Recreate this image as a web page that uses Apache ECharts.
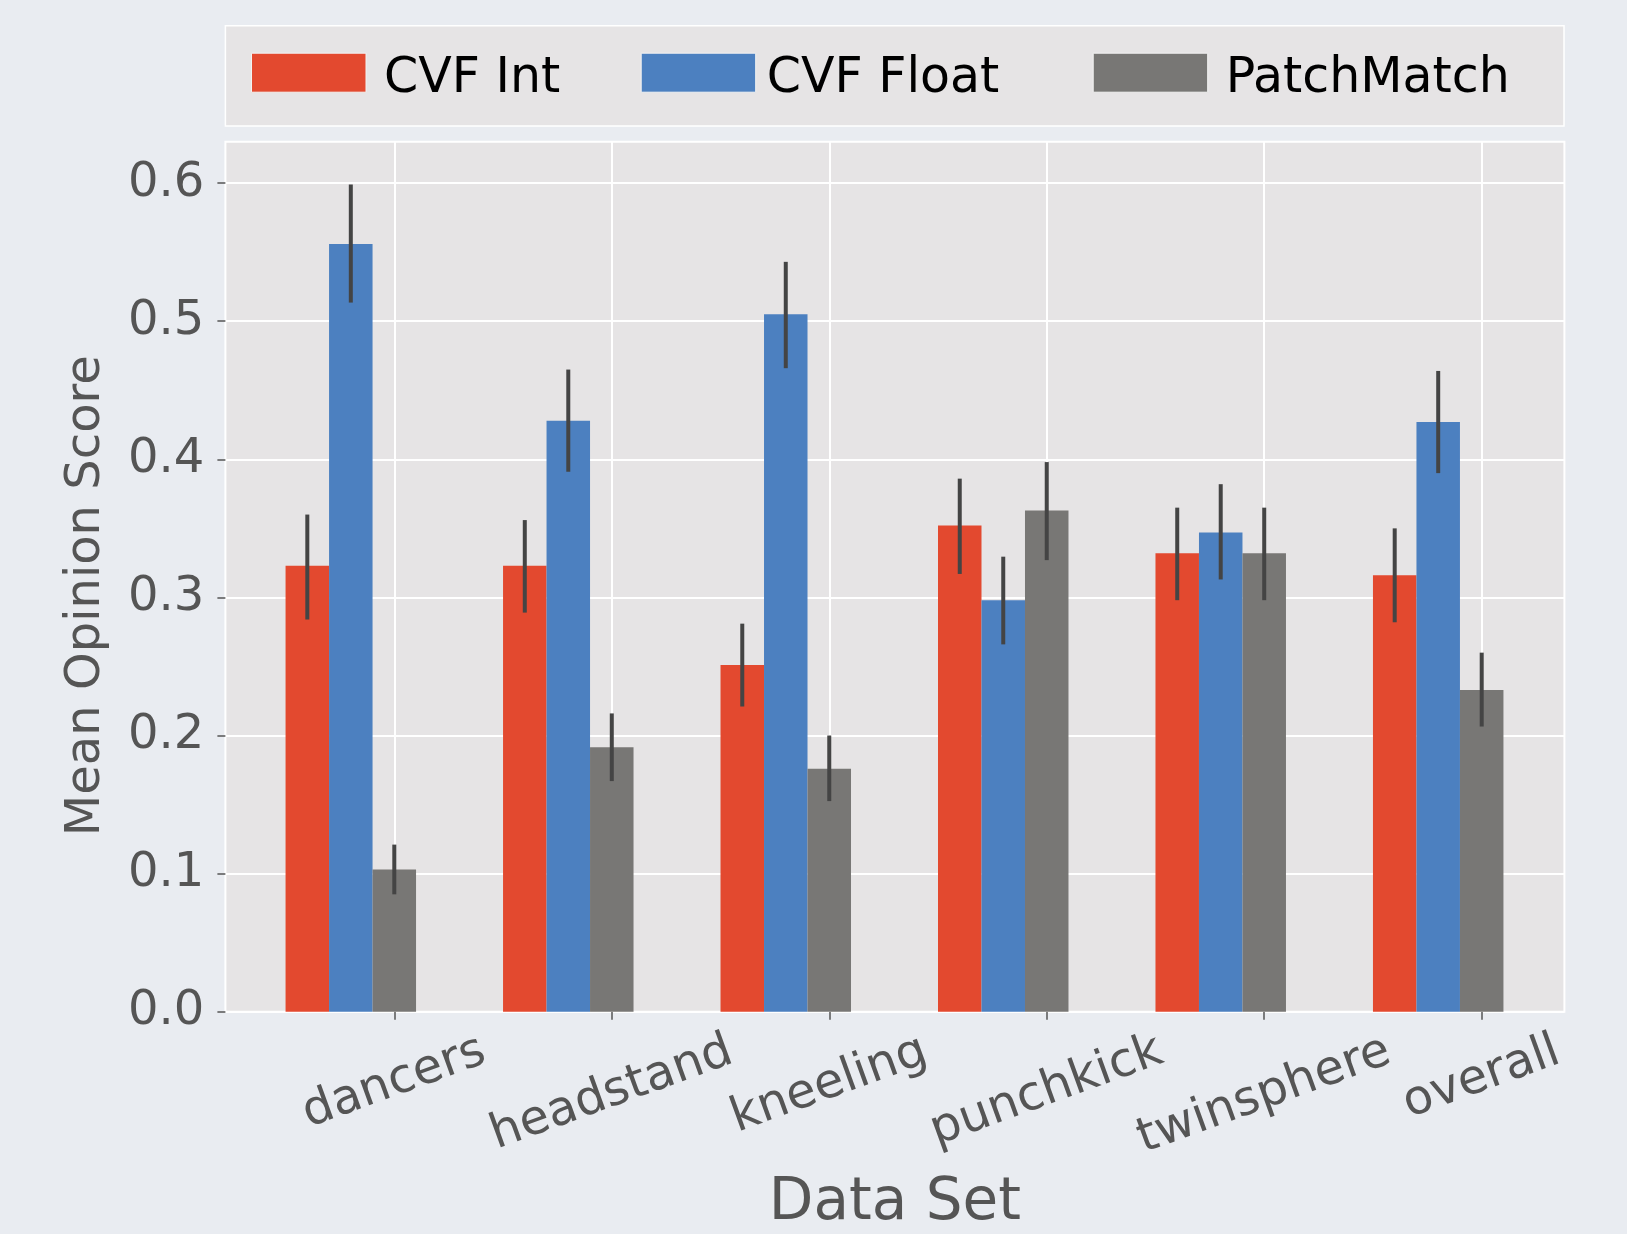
<!DOCTYPE html>
<html>
<head>
<meta charset="utf-8">
<script src="https://cdn.jsdelivr.net/npm/echarts@6/dist/echarts.min.js"></script>
<style>
  html, body { margin: 0; padding: 0; background: #E9ECF1; }
  #chart { width: 1627px; height: 1234px; }
</style>
</head>
<body>
<div id="chart"></div>
<script>
// ---- data ----
const categories = ['dancers', 'headstand', 'kneeling', 'punchkick', 'twinsphere', 'overall'];
const seriesNames = ['CVF Int', 'CVF Float', 'PatchMatch'];

const cvfInt     = [0.323, 0.323, 0.251, 0.352, 0.332, 0.316];
const cvfIntLo   = [0.284, 0.289, 0.221, 0.317, 0.298, 0.282];
const cvfIntHi   = [0.360, 0.356, 0.281, 0.386, 0.365, 0.350];

const cvfFloat   = [0.556, 0.428, 0.505, 0.298, 0.347, 0.427];
const cvfFloatLo = [0.5135, 0.391, 0.466, 0.266, 0.313, 0.390];
const cvfFloatHi = [0.599, 0.465, 0.543, 0.3295, 0.382, 0.464];

const patchMatch   = [0.103, 0.1915, 0.176, 0.363, 0.332, 0.233];
const patchMatchLo = [0.085, 0.167, 0.1525, 0.327, 0.298, 0.2065];
const patchMatchHi = [0.121, 0.216, 0.200, 0.398, 0.365, 0.260];

const yTicks = [0.0, 0.1, 0.2, 0.3, 0.4, 0.5, 0.6];
const yMax = 0.63;

// ---- styling ----
const colors = ['#E3492F', '#4C80C0', '#787775'];
const FONT = '"DejaVu Sans", "Noto Sans", sans-serif';
const tickColor = '#555555';
const ROT = 20 * Math.PI / 180;

const values = [cvfInt, cvfFloat, patchMatch];
const lows = [cvfIntLo, cvfFloatLo, patchMatchLo];
const highs = [cvfIntHi, cvfFloatHi, patchMatchHi];

const series = [];
values.forEach((vals, k) => {
  series.push({
    name: seriesNames[k], type: 'bar', xAxisIndex: 1, yAxisIndex: 1,
    data: vals, barWidth: '20%', barGap: '0%', clip: false,
    itemStyle: { color: colors[k] }, z: 2
  });
});
// two empty spacer series so the last real bar sits on the tick (as in the source)
['_pad1', '_pad2'].forEach(n => {
  series.push({ name: n, type: 'bar', xAxisIndex: 1, yAxisIndex: 1,
    data: categories.map(() => '-'), barWidth: '20%', barGap: '0%', clip: false });
});
// error bars
values.forEach((vals, k) => {
  series.push({
    name: seriesNames[k] + ' err', type: 'custom', xAxisIndex: 1, yAxisIndex: 1, clip: false, z: 5,
    data: categories.map((c, i) => [i, lows[k][i], highs[k][i]]),
    renderItem: function (params, api) {
      const lo = api.coord([api.value(0), api.value(1)]);
      const hi = api.coord([api.value(0), api.value(2)]);
      const band = api.size([1, 0])[0];
      const x = lo[0] + (k - 2) * band * 0.2;
      return { type: 'line', shape: { x1: x, y1: lo[1], x2: x, y2: hi[1] },
        style: { stroke: '#444444', lineWidth: 4 } };
    }
  });
});

const legendTextPad = [13, 6, 13];
const legendLefts = [251, 640.7, 1092.7];
const legends = seriesNames.map((n, k) => ({
  data: [n], left: legendLefts[k], top: 52.7, padding: 0,
  itemWidth: 114.5, itemHeight: 52,
  icon: 'path://M0,0H114.5V39H0Z M0,52',
  selectedMode: false,
  itemStyle: { borderColor: '#F2F2F2', borderWidth: 1 },
  textStyle: { fontSize: 49, color: '#000000', fontFamily: FONT, padding: [0, 0, 0, legendTextPad[k]] }
}));

const option = {
  backgroundColor: '#E9ECF1',
  animation: false,
  textStyle: { fontFamily: FONT },
  graphic: [{
    id: 'legendBox', type: 'rect', z: 1, silent: true,
    shape: { x: 225.4, y: 25.7, width: 1564 - 225.4, height: 126 - 25.7 },
    style: { fill: '#E6E4E5', stroke: '#FFFFFF', lineWidth: 1.5 }
  }],
  legend: legends,
  grid: [
    { left: 225.4, right: 1627 - 1564.4, top: 141.7, bottom: 1234 - 1011.7,
      show: true, backgroundColor: '#E6E4E5', borderColor: '#FFFFFF', borderWidth: 2,
      containLabel: false, outerBoundsMode: 'none' },
    { left: 394.3, right: 1627 - 1481.7, top: 141.7, bottom: 1234 - 1011.7,
      containLabel: false, outerBoundsMode: 'none' }
  ],
  xAxis: [
    { gridIndex: 0, type: 'value', min: 0, max: 1, show: true,
      axisLine: { show: false }, axisTick: { show: false }, axisLabel: { show: false }, splitLine: { show: false },
      name: 'Data Set', nameLocation: 'middle', nameGap: 192,
      nameTextStyle: { fontSize: 58, color: tickColor, fontFamily: FONT, verticalAlign: 'middle' } },
    { gridIndex: 1, type: 'category', data: categories, boundaryGap: false,
      axisLine: { show: false },
      axisTick: { show: true, length: 8, interval: 0, lineStyle: { color: tickColor, width: 1.5 } },
      splitLine: { show: true, interval: 0, lineStyle: { color: '#FFFFFF', width: 2 } },
      axisLabel: { show: false } }
  ],
  yAxis: [
    { gridIndex: 0, type: 'value', min: 0, max: yMax, interval: 0.1,
      axisLine: { show: false },
      axisTick: { show: true, length: 8, customValues: yTicks, lineStyle: { color: tickColor, width: 1.5 } },
      axisLabel: { customValues: yTicks, fontSize: 48, color: tickColor, fontFamily: FONT, margin: 21,
        formatter: v => Number(v).toFixed(1) },
      splitLine: { show: true, lineStyle: { color: '#FFFFFF', width: 2 } },
      name: 'Mean Opinion Score', nameLocation: 'middle', nameGap: 139,
      nameTextStyle: { fontSize: 48, color: tickColor, fontFamily: FONT, verticalAlign: 'middle', padding: [0, 38, 0, 0] } },
    { gridIndex: 1, type: 'value', min: 0, max: yMax, show: false, splitLine: { show: false } }
  ],
  series: series
};

const chart = echarts.init(document.getElementById('chart'), null, { renderer: 'canvas' });
chart.setOption(option);

// x tick labels: matplotlib-style rotated (20deg) labels, centred on the tick, rotated bbox top fixed
const ctx = document.createElement('canvas').getContext('2d');
ctx.font = '48px "DejaVu Sans"';
const widths = categories.map(c => ctx.measureText(c).width);
const wMin = Math.min.apply(null, widths);
const axisY = chart.convertToPixel({ yAxisIndex: 1 }, 0);
const labelEls = categories.map((c, i) => ({
  id: 'xlab' + i, type: 'text', silent: true, z: 10,
  x: chart.convertToPixel({ xAxisIndex: 1 }, c),
  y: axisY + 66.3 + (widths[i] - wMin) * Math.sin(ROT) / 2,
  rotation: ROT,
  style: { text: c, fill: tickColor, fontSize: 48, fontFamily: FONT, align: 'center', verticalAlign: 'middle' }
}));
chart.setOption({ graphic: option.graphic.concat(labelEls) });
</script>
</body>
</html>
